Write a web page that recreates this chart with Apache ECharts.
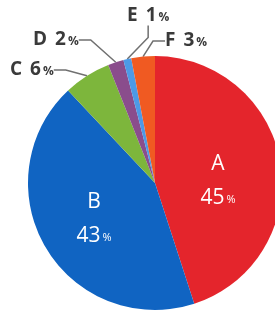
<!DOCTYPE html>
<html><head><meta charset="utf-8">
<script src="https://cdn.jsdelivr.net/npm/echarts@6/dist/echarts.min.js"></script>
<style>html,body{margin:0;padding:0;background:#fff}#c{width:275px;height:312px}</style>
</head><body><div id="c"></div>
<script>
const categories = ['A','B','C','D','E','F'];
const values = [45,43,6,2,1,3];
const colors = ['#e4252c','#1064c2','#7db63c','#8a4d8c','#4d9ae6','#f05a22'];
const insideSet = ['A','B'];
// label anchor positions for the small outer labels (layout only)
const outerPos = {C:[10,70], D:[33,40], E:[127,16], F:[165,41]};
const innerPos = {A:[218,180], B:[94,218]};

const chart = echarts.init(document.getElementById('c'), null, {renderer:'canvas'});
const data = categories.map((c,i)=>{
  const inside = insideSet.includes(c);
  return {
    name:c, value:values[i],
    itemStyle:{color:colors[i]},
    label: inside ? {
      position:'inside',
      formatter:'{n|'+c+'}\n{v|'+values[i]+'}{p|%}',
      rich:{
        n:{fontSize:21,color:'#fff',fontFamily:'Open Sans',lineHeight:36},
        v:{fontSize:21,color:'#fff',fontFamily:'Open Sans',lineHeight:32},
        p:{fontSize:11,color:'#fff',fontFamily:'Open Sans',lineHeight:32,padding:[4,0,0,2]}
      }
    } : {
      position:'outside',
      overflow:'none',
      formatter:'{n|'+c+'}{v|'+values[i]+'}{p|%}',
      rich:{
        n:{fontSize:19,fontWeight:'bold',color:'#3a3a3a',fontFamily:'Open Sans'},
        v:{fontSize:19,fontWeight:'bold',color:'#3a3a3a',fontFamily:'Open Sans',padding:[0,0,0,8]},
        p:{fontSize:12,fontWeight:'bold',color:'#3a3a3a',fontFamily:'Open Sans',padding:[3,0,0,2]}
      }
    },
    labelLine: inside ? {show:false} : {show:true, lineStyle:{color:'#707070',width:1.5}}
  };
});

chart.setOption({
  animation:false,
  series:[{
    type:'pie',
    center:[155,183],
    radius:[0,127],
    startAngle:90,
    clockwise:true,
    data:data,
    label:{show:true},
    labelLine:{length:10,length2:12},
    labelLayout:function(p){
      const nm = categories[p.dataIndex];
      if (outerPos[nm]) {
        return {x:outerPos[nm][0], y:outerPos[nm][1], align:'left', verticalAlign:'middle'};
      }
      if (innerPos[nm]) {
        return {x:innerPos[nm][0], y:innerPos[nm][1], align:'center', verticalAlign:'middle'};
      }
      return {};
    }
  }]
});
</script></body></html>
